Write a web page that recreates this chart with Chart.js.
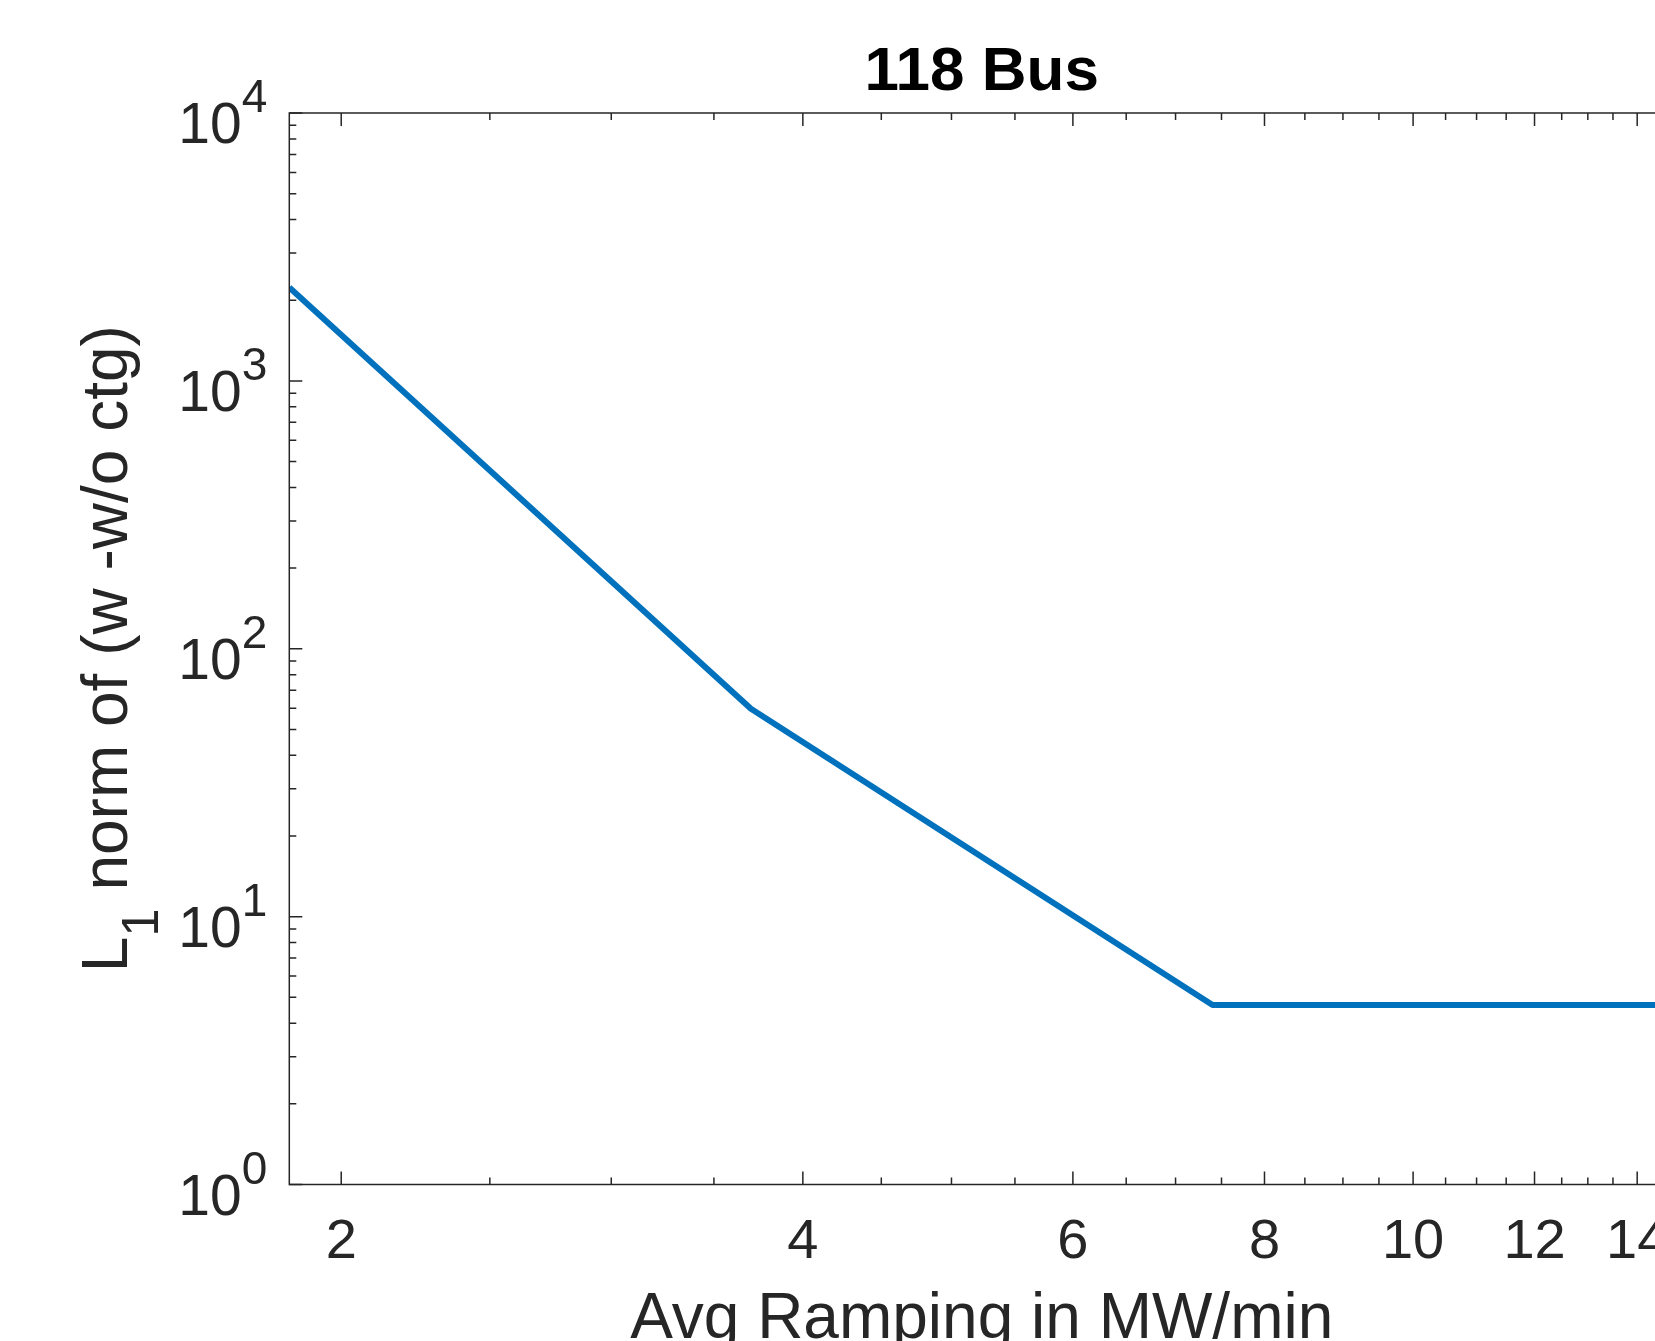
<!DOCTYPE html>
<html>
<head>
<meta charset="utf-8">
<title>118 Bus</title>
<script src="https://cdn.jsdelivr.net/npm/chart.js@4.4.1/dist/chart.umd.min.js"></script>
<style>
  html, body { margin: 0; padding: 0; background: #fff; overflow: hidden; }
  #wrap { width: 1655px; height: 1341px; overflow: hidden; }
  canvas { display: block; }
</style>
</head>
<body>
<div id="wrap"><canvas id="chart" width="1800" height="1341"></canvas></div>
<script>
// Datos
const ramping = [1.85, 3.7, 7.4, 14.8];
const l1Norm = [2230, 59.7, 4.68, 4.68];

// Etiquetas de los ejes
const xTickLabels = [2, 4, 6, 8, 10, 12, 14];
const yTickExps = [0, 1, 2, 3, 4];

const xMinorTicks = [];
for (let v = 2.5; v < 15; v += 0.5) {
    if (!xTickLabels.includes(v)) xMinorTicks.push(v);
}

const FONT = '"Liberation Sans", Arial, Helvetica, sans-serif';
const AXIS_COLOR = '#262626';
const W = 1800, H = 1341;

// Ejes estilo MATLAB: caja, marcas hacia dentro, etiquetas 10^n
const matlabAxes = {
    id: 'matlabAxes',
    afterDatasetsDraw(chart) {
        const { ctx, chartArea: a, scales } = chart;
        const x = scales.x, y = scales.y;
        ctx.save();
        ctx.strokeStyle = AXIS_COLOR;
        ctx.lineWidth = 1.5;
        ctx.strokeRect(a.left, a.top, a.right - a.left, a.bottom - a.top);

        ctx.beginPath();
        // marcas del eje y
        yTickExps.forEach(e => {
            const py = y.getPixelForValue(Math.pow(10, e));
            ctx.moveTo(a.left, py); ctx.lineTo(a.left + 13, py);
            ctx.moveTo(a.right, py); ctx.lineTo(a.right - 13, py);
            if (e < 4) {
                for (let m = 2; m <= 9; m++) {
                    const pm = y.getPixelForValue(m * Math.pow(10, e));
                    ctx.moveTo(a.left, pm); ctx.lineTo(a.left + 7, pm);
                    ctx.moveTo(a.right, pm); ctx.lineTo(a.right - 7, pm);
                }
            }
        });
        // marcas del eje x
        xTickLabels.forEach(v => {
            const px = x.getPixelForValue(v);
            ctx.moveTo(px, a.bottom); ctx.lineTo(px, a.bottom - 13);
            ctx.moveTo(px, a.top); ctx.lineTo(px, a.top + 13);
        });
        xMinorTicks.forEach(v => {
            const px = x.getPixelForValue(v);
            if (px > a.right) return;
            ctx.moveTo(px, a.bottom); ctx.lineTo(px, a.bottom - 7);
            ctx.moveTo(px, a.top); ctx.lineTo(px, a.top + 7);
        });
        ctx.stroke();

        // etiquetas del eje x
        ctx.fillStyle = AXIS_COLOR;
        ctx.font = '56px ' + FONT;
        ctx.textAlign = 'center';
        ctx.textBaseline = 'alphabetic';
        xTickLabels.forEach(v => {
            ctx.fillText(String(v), x.getPixelForValue(v), a.bottom + 73.5);
        });

        // etiquetas del eje y (10 con exponente)
        ctx.textAlign = 'left';
        const right = a.left - 22;
        yTickExps.forEach(e => {
            const py = y.getPixelForValue(Math.pow(10, e));
            ctx.font = '46px ' + FONT;
            const wExp = ctx.measureText(String(e)).width;
            ctx.font = '57px ' + FONT;
            const wBase = ctx.measureText('10').width;
            ctx.fillText('10', right - wExp - wBase, py + 30);
            ctx.font = '46px ' + FONT;
            ctx.fillText(String(e), right - wExp, py - 1);
        });

        // título
        const cx = (a.left + a.right) / 2;
        ctx.fillStyle = '#000';
        ctx.textAlign = 'center';
        ctx.font = 'bold 62px ' + FONT;
        ctx.fillText('118 Bus', cx, 90);

        // etiqueta x
        ctx.fillStyle = AXIS_COLOR;
        ctx.font = '64px ' + FONT;
        ctx.fillText('Avg Ramping in MW/min', cx, 1338);

        // etiqueta y con subíndice
        ctx.translate(126.7, (a.top + a.bottom) / 2);
        ctx.rotate(-Math.PI / 2);
        ctx.textAlign = 'left';
        ctx.font = '64px ' + FONT;
        const wL = ctx.measureText('L').width;
        const rest = ' norm of (w -w/o ctg)';
        const wRest = ctx.measureText(rest).width;
        ctx.font = '51px ' + FONT;
        const wSub = ctx.measureText('1').width;
        let sx = -(wL + wSub + wRest) / 2;
        ctx.font = '64px ' + FONT;
        ctx.fillText('L', sx, 0);
        ctx.font = '51px ' + FONT;
        ctx.fillText('1', sx + wL, 31.6);
        ctx.font = '64px ' + FONT;
        ctx.fillText(rest, sx + wL + wSub, 0);
        ctx.restore();
    }
};

const ctx = document.getElementById('chart').getContext('2d');
new Chart(ctx, {
    type: 'line',
    data: {
        datasets: [{
            data: ramping.map((v, i) => ({ x: v, y: l1Norm[i] })),
            borderColor: '#0072BD',
            borderWidth: 6,
            pointRadius: 0,
            tension: 0,
            borderJoinStyle: 'round',
            fill: false
        }]
    },
    options: {
        responsive: false,
        animation: false,
        devicePixelRatio: 1,
        layout: {
            padding: { left: 289.3, top: 113, right: W - 1674.2, bottom: H - 1184.5 }
        },
        scales: {
            x: { type: 'logarithmic', min: 1.85, max: 14.8, display: false },
            y: { type: 'logarithmic', min: 1, max: 10000, display: false }
        },
        plugins: {
            legend: { display: false },
            tooltip: { enabled: false }
        }
    },
    plugins: [matlabAxes]
});
</script>
</body>
</html>
